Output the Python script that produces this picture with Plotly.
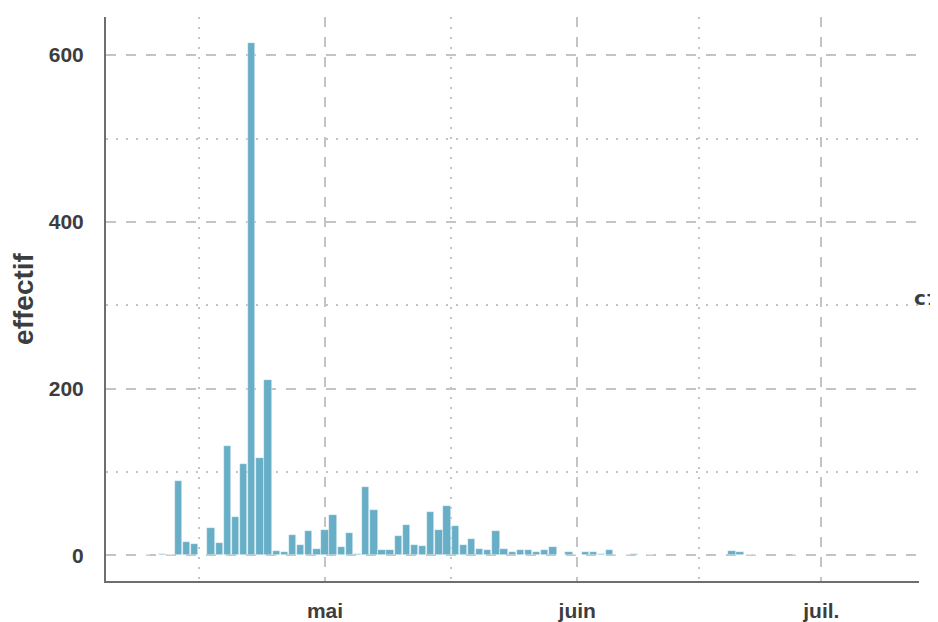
import plotly.graph_objects as go

# ---- data ----
dates = [
    "2020-04-09", "2020-04-11", "2020-04-12", "2020-04-13", "2020-04-14", "2020-04-15",
    "2020-04-17", "2020-04-18", "2020-04-19", "2020-04-20", "2020-04-21", "2020-04-22",
    "2020-04-23", "2020-04-24", "2020-04-25", "2020-04-26", "2020-04-27", "2020-04-28",
    "2020-04-29", "2020-04-30", "2020-05-01", "2020-05-02", "2020-05-03", "2020-05-04",
    "2020-05-05", "2020-05-06", "2020-05-07", "2020-05-08", "2020-05-09", "2020-05-10",
    "2020-05-11", "2020-05-12", "2020-05-13", "2020-05-14", "2020-05-15", "2020-05-16",
    "2020-05-17", "2020-05-18", "2020-05-19", "2020-05-20", "2020-05-21", "2020-05-22",
    "2020-05-23", "2020-05-24", "2020-05-25", "2020-05-26", "2020-05-27", "2020-05-28",
    "2020-05-29", "2020-05-30", "2020-05-31", "2020-06-01", "2020-06-02", "2020-06-03",
    "2020-06-04", "2020-06-05", "2020-06-06", "2020-06-07", "2020-06-08", "2020-06-10",
    "2020-06-20", "2020-06-21", "2020-06-22", "2020-06-23", "2020-06-26", "2020-06-28",
    "2020-07-01", "2020-07-06", "2020-07-08",
]
effectif = [
    1, 2, 1, 89, 16, 14,
    33, 15, 131, 46, 110, 615,
    117, 210, 5, 4, 25, 13,
    29, 8, 31, 49, 10, 27,
    2, 82, 55, 6, 7, 23,
    36, 12, 11, 52, 31, 59,
    35, 12, 20, 8, 6, 29,
    8, 4, 6, 7, 4, 6,
    10, 1, 4, 1, 4, 4,
    2, 6, 1, 1, 2, 1,
    5, 4, 1, 1, 1, 1,
    1, 1, 1,
]
month_ticks = ["2020-05-01", "2020-06-01", "2020-07-01"]
month_labels = ["mai", "juin", "juil."]
month_minor = ["2020-04-15 12:00", "2020-05-16 12:00", "2020-06-16 00:00"]
y_ticks = [0, 200, 400, 600]
y_minor = [100, 300, 500]
x_range = ["2020-04-04 02:00", "2020-07-13 00:00"]
y_range = [-30.75, 645.75]

TXT = "#3d3d3d"
GRID = "#c4c4c4"
FONT = "Liberation Sans, Arial, sans-serif"
DAY_MS = 86400000

fig = go.Figure()
fig.add_trace(go.Bar(
    x=dates, y=effectif,
    width=[0.9 * DAY_MS] * len(dates),
    marker=dict(color="#67aec6", line=dict(color="rgba(255,255,255,0.7)", width=0.6)),
    showlegend=False,
))

# page body has an 8px margin: figure is sized/offset to fill the 938x622 window
fig.update_layout(
    width=930, height=614,
    margin=dict(l=98, r=19, t=9, b=41, autoexpand=False),
    paper_bgcolor="white", plot_bgcolor="white",
    font=dict(family=FONT, color=TXT),
    bargap=0,
)
fig.update_xaxes(
    type="date", range=x_range, automargin=False,
    tickmode="array", tickvals=month_ticks, ticktext=month_labels,
    tickfont=dict(size=21, family=FONT, color=TXT, weight="bold"),
    ticks="outside", ticklen=10, tickcolor="rgba(0,0,0,0)",
    showgrid=True, gridcolor=GRID, gridwidth=2, griddash="10px,10px",
    minor=dict(tickvals=month_minor, showgrid=True, gridcolor=GRID, gridwidth=2,
               griddash="2px,8px", ticks=""),
    showline=True, linecolor="#6e6e6e", linewidth=2,
    zeroline=False,
)
fig.update_yaxes(
    range=y_range, automargin=False,
    tickmode="array", tickvals=y_ticks,
    tickfont=dict(size=21, family=FONT, color=TXT, weight="bold"),
    ticks="outside", ticklen=16, tickcolor="rgba(0,0,0,0)",
    showgrid=True, gridcolor=GRID, gridwidth=2, griddash="10px,10px",
    minor=dict(tickvals=y_minor, showgrid=True, gridcolor=GRID, gridwidth=2,
               griddash="2px,8px", ticks=""),
    showline=True, linecolor="#6e6e6e", linewidth=2,
    zeroline=False,
    title=dict(text="effectif", font=dict(size=28, family=FONT, color=TXT, weight="bold"),
               standoff=14),
)
fig.add_annotation(
    xref="paper", yref="paper", x=1.0258, y=0.502,
    xanchor="right", yanchor="middle", showarrow=False,
    text="cɿ", font=dict(size=20, family="DejaVu Sans, " + FONT, color=TXT, weight="bold"),
)

fig.write_html("out.html")
